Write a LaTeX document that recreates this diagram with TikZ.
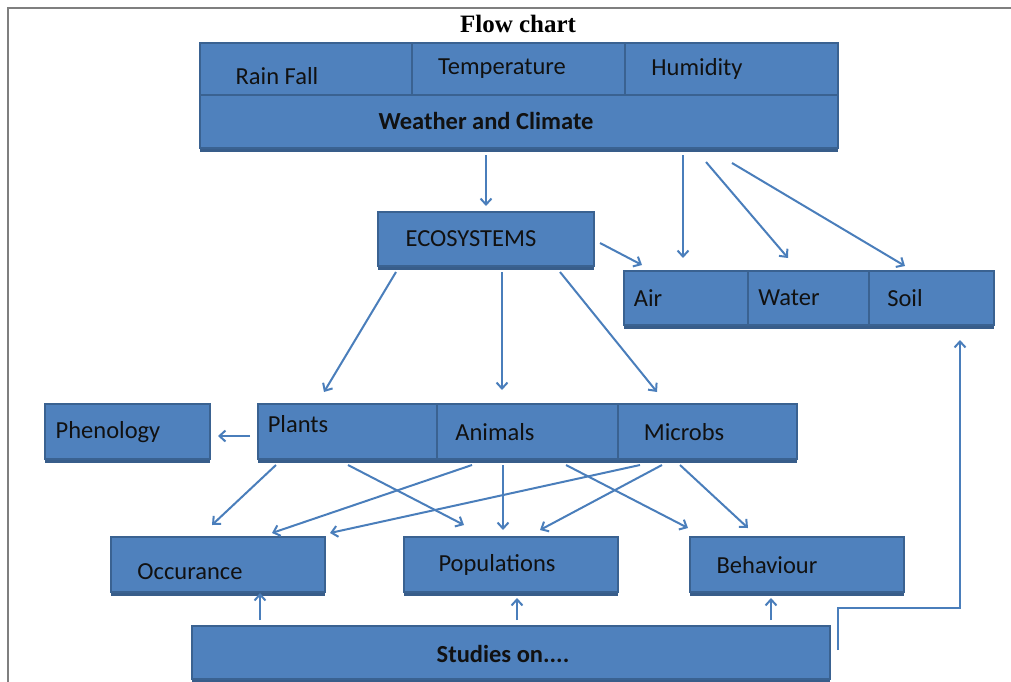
\documentclass[tikz,border=0pt]{standalone}
\usepackage{fontspec}
\setmainfont{Carlito}
\newfontfamily\titlefont{Liberation Serif}
\usetikzlibrary{arrows.meta,shadows}
\definecolor{boxfill}{HTML}{4F81BD}
\definecolor{boxline}{HTML}{3A6291}
\definecolor{boxdark}{HTML}{385D8A}
\definecolor{arrowc}{HTML}{4A7EBB}
\definecolor{framec}{HTML}{7F7F7F}
\definecolor{txtc}{HTML}{111111}
\tikzset{
  grp/.style={rectangle, inner sep=0pt, outer sep=0pt, fill=boxfill, draw=boxline, line width=1.2pt,
    general shadow={fill=boxdark, shadow xshift=0pt, shadow yshift=-3.5pt}},
  cell/.style={rectangle, inner sep=0pt, outer sep=0pt, draw=boxline, line width=1.2pt},
  lbl/.style={inner sep=0pt, text=txtc, font=\fontsize{24.5}{28}\selectfont},
  blbl/.style={lbl, font=\fontsize{24.5}{28}\selectfont\bfseries},
  arr/.style={draw=arrowc, line width=2pt, -{Straight Barb[length=6pt,width=11pt]}},
}
\begin{document}
\begin{tikzpicture}[x=1pt,y=-1pt]
\useasboundingbox (0,0) rectangle (1011,682);
% frame
\draw[framec, line width=2pt] (8,690) -- (8,8) -- (1015,8);
\node[inner sep=0pt, font=\titlefont\fontsize{25}{28}\selectfont\bfseries] (title) at (518,24) {Flow chart};

% weather and climate group
\node[grp, minimum width=638, minimum height=105] (wcgrp) at (519,95.5) {};
\node[cell, minimum width=212, minimum height=52] (rain) at (306,69) {};
\node[cell, minimum width=213, minimum height=52] (temp) at (518.5,69) {};
\node[cell, minimum width=213, minimum height=52] (hum) at (731.5,69) {};
\node[cell, minimum width=638, minimum height=53] (wc) at (519,121.5) {};
\node[lbl] (train) at (277,76) {Rain Fall};
\node[lbl] (ttemp) at (502,69) {Temperature};
\node[lbl] (thum) at (697,69) {Humidity};
\node[blbl] (twc) at (486,121) {Weather and Climate};

% ecosystems
\node[grp, minimum width=216, minimum height=54] (eco) at (486,239) {};
\node[lbl] (teco) at (471,239) {ECOSYSTEMS};

% air water soil
\node[grp, minimum width=370, minimum height=54] (awsgrp) at (809,298) {};
\node[cell, minimum width=124, minimum height=54] (air) at (686,298) {};
\node[cell, minimum width=121, minimum height=54] (water) at (808.5,298) {};
\node[cell, minimum width=125, minimum height=54] (soil) at (931.5,298) {};
\node[lbl] (tair) at (648,298) {Air};
\node[lbl] (twater) at (789,298) {Water};
\node[lbl] (tsoil) at (905,298) {Soil};

% plants animals microbs
\node[grp, minimum width=539, minimum height=55] (biogrp) at (527.5,431.5) {};
\node[cell, minimum width=179, minimum height=55] (plants) at (347.5,431.5) {};
\node[cell, minimum width=181, minimum height=55] (animals) at (527.5,431.5) {};
\node[cell, minimum width=179, minimum height=55] (microbs) at (707.5,431.5) {};
\node[lbl] (tplants) at (298,424) {Plants};
\node[lbl] (tanimals) at (495,432) {Animals};
\node[lbl] (tmicrobs) at (684,432) {Microbs};

% phenology
\node[grp, minimum width=165, minimum height=55] (phen) at (127.5,431.5) {};
\node[lbl] (tphen) at (108,432) {Phenology};

% outcomes
\node[grp, minimum width=214, minimum height=55] (occ) at (218,564.5) {};
\node[lbl] (tocc) at (190,572) {Occurance};
\node[grp, minimum width=214, minimum height=55] (pop) at (511,564.5) {};
\node[lbl] (tpop) at (497,565) {Populations};
\node[grp, minimum width=214, minimum height=55] (beh) at (797,564.5) {};
\node[lbl] (tbeh) at (767,565) {Behaviour};

% studies
\node[grp, minimum width=638, minimum height=53] (stud) at (511,652.5) {};
\node[blbl] (tstud) at (503,654) {Studies on....};

% arrows
\draw[arr] ([shift={(286,7)}]wc.south west) -- ([shift={(108,-6)}]eco.north west);
\draw[arr] ([shift={(483,7)}]wc.south west) -- ([shift={(59,-13)}]air.north west);
\draw[arr] ([shift={(506,14)}]wc.south west) -- ([shift={(40,-13)}]water.north west);
\draw[arr] ([shift={(532,15)}]wc.south west) -- ([shift={(36,-5)}]soil.north west);
\draw[arr] ([shift={(6,4)}]eco.east) -- ([shift={(18,-6)}]air.north west);
\draw[arr] ([shift={(18,6)}]eco.south west) -- ([shift={(66,-12)}]plants.north west);
\draw[arr] ([shift={(124,6)}]eco.south west) -- ([shift={(65,-14)}]animals.north west);
\draw[arr] ([shift={(182,6)}]eco.south west) -- ([shift={(39,-12)}]microbs.north west);
\draw[arr] ([shift={(-8,4.5)}]plants.west) -- ([shift={(8,4.5)}]phen.east);
\draw[arr] ([shift={(18,6)}]plants.south west) -- ([shift={(101,-12)}]occ.north west);
\draw[arr] ([shift={(90,6)}]plants.south west) -- ([shift={(60,-12)}]pop.north west);
\draw[arr] ([shift={(35,6)}]animals.south west) -- ([shift={(161,-4)}]occ.north west);
\draw[arr] ([shift={(66,6)}]animals.south west) -- ([shift={(99,-7)}]pop.north west);
\draw[arr] ([shift={(129,6)}]animals.south west) -- ([shift={(-2,-9)}]beh.north west);
\draw[arr] ([shift={(22,6)}]microbs.south west) -- ([shift={(219,-4)}]occ.north west);
\draw[arr] ([shift={(44,6)}]microbs.south west) -- ([shift={(136,-7)}]pop.north west);
\draw[arr] ([shift={(62,6)}]microbs.south west) -- ([shift={(58,-9)}]beh.north west);
\draw[arr] ([shift={(68,-6)}]stud.north west) -- ([shift={(42,1)}]occ.south);
\draw[arr] ([shift={(325,-6)}]stud.north west) -- ([shift={(6,6)}]pop.south);
\draw[arr] ([shift={(579,-6)}]stud.north west) -- ([shift={(-26,6)}]beh.south);
\draw[arr] ([shift={(8,24)}]stud.north east) -- ++(0,-42) -| ([shift={(91,15)}]soil.south west);
\end{tikzpicture}
\end{document}
